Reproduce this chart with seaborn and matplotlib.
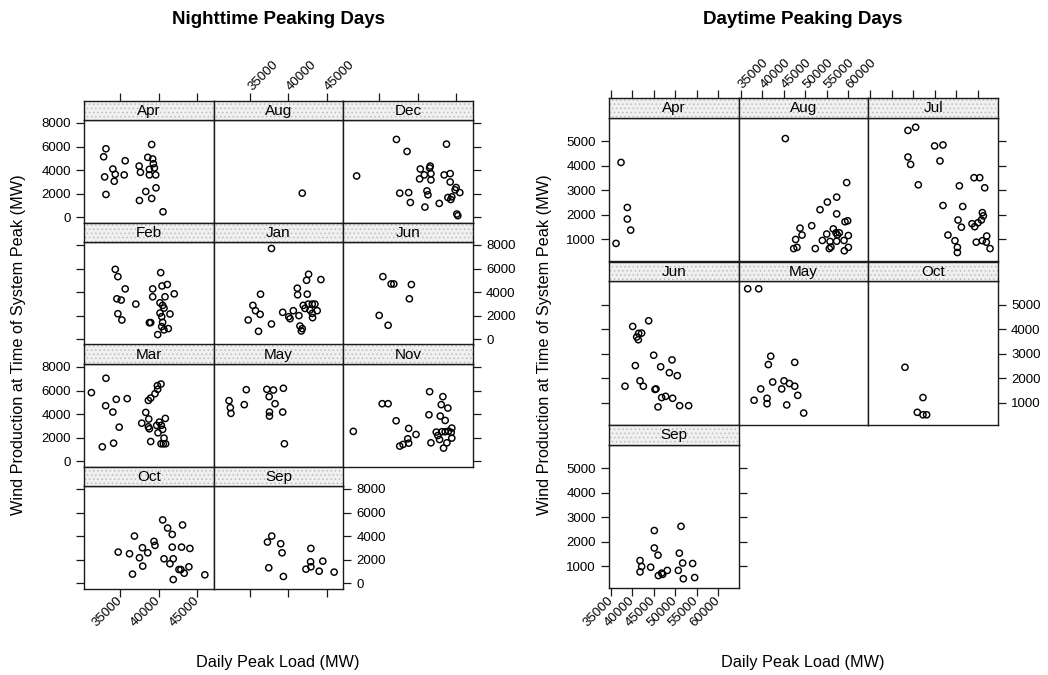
import math
import numpy as np
import pandas as pd
import matplotlib
matplotlib.use("Agg")
import matplotlib.pyplot as plt
from matplotlib.patches import Rectangle
import seaborn as sns

# ---------------- Nighttime peaking days: (daily peak load MW, wind MW) ----------------
night_apr = [(33150, 5810), (32850, 5130), (34050, 4090), (34360, 3640), (32980, 3420),
             (34230, 3050), (35520, 3590), (35650, 4790), (33150, 1930), (37460, 4340),
             (37630, 3810), (38580, 5080), (39090, 6170), (39220, 4940), (39310, 4540),
             (38790, 4060), (39440, 4180), (38790, 3590), (39610, 3590), (38320, 2180),
             (39650, 2490), (37500, 1420), (39090, 1590), (40560, 460)]
night_aug = [(41800, 2040)]
night_dec = [(32030, 3500), (37200, 6600), (38580, 5580), (43700, 6200), (37630, 2040),
             (38790, 2090), (39010, 1250), (40300, 4090), (40210, 3250), (40820, 3590),
             (41590, 4340), (41510, 4180), (41680, 3700), (41680, 3160), (41160, 2230),
             (41290, 1900), (40900, 860), (42760, 1170), (43400, 3590), (44180, 3700),
             (44180, 2990), (43880, 1670), (44260, 1500), (44390, 1730), (44950, 2520),
             (44820, 2320), (45430, 2090), (45040, 270), (45170, 130)]
night_feb = [(34360, 5930), (34700, 5310), (35650, 4270), (34570, 3430), (35130, 3320),
             (37030, 2980), (34700, 2160), (35220, 1630), (40260, 5650), (39220, 4270),
             (40430, 4520), (41120, 4640), (42020, 3850), (39220, 3600), (40820, 3600),
             (40170, 3090), (40510, 2870), (40690, 2640), (40170, 2220), (41460, 2140),
             (40390, 1910), (38790, 1400), (38960, 1410), (40510, 1430), (40390, 1070),
             (41250, 900), (40690, 790), (39870, 390)]
night_jan = [(37800, 7700), (36380, 3820), (35390, 2870), (35730, 2420), (36330, 2110),
             (34780, 1630), (36120, 670), (37800, 1290), (39260, 2280), (40640, 2420),
             (40040, 1910), (40210, 1740), (41370, 2000), (41160, 4330), (41200, 3770),
             (42450, 3820), (42360, 5000), (42620, 5510), (44220, 5060), (41930, 2870),
             (42580, 2980), (43100, 2980), (43440, 2980), (42150, 2610), (42800, 2470),
             (43100, 2190), (43740, 2420), (43140, 1830), (41500, 1120), (41680, 700),
             (41800, 900)]
night_jun = [(35440, 5310), (36510, 4690), (36860, 4690), (39140, 4640), (38880, 3430),
             (34960, 2020), (36120, 1180)]
night_mar = [(31260, 5820), (33150, 7040), (33110, 4710), (34050, 4170), (34490, 5250),
             (35910, 5310), (34870, 2890), (32680, 1220), (34140, 1530), (38660, 5160),
             (38960, 5360), (39520, 5730), (39830, 6410), (40300, 6550), (39870, 6100),
             (38320, 4140), (38710, 3580), (37800, 3230), (38660, 2920), (38790, 2750),
             (40080, 3320), (39740, 3040), (40340, 3040), (40860, 3630), (40510, 2700),
             (39910, 2410), (38960, 1670), (40690, 1960), (40300, 1480), (40600, 1480),
             (40900, 1480)]
night_may = [(32290, 5140), (32460, 4540), (32540, 4060), (34270, 4800), (34530, 6070),
             (37200, 6100), (38060, 6040), (39350, 6190), (37500, 5480), (38270, 4880),
             (37540, 4170), (37540, 3830), (39260, 4170), (39480, 1480)]
night_nov = [(31600, 2530), (35350, 4880), (36120, 4880), (37160, 3430), (38790, 2780),
             (39740, 2270), (37630, 1280), (38060, 1420), (38670, 1900), (38790, 1530),
             (41510, 5900), (41420, 3940), (41680, 1560), (43230, 5480), (43020, 4800),
             (43880, 4510), (42890, 3830), (43530, 3460), (42370, 2470), (42580, 2180),
             (43100, 2500), (43530, 2500), (43960, 2550), (44390, 2810), (44310, 2440),
             (42800, 1840), (43750, 1560), (44390, 1960), (43320, 1110)]
night_oct = [(34740, 2640), (36210, 2500), (36850, 4000), (36600, 770), (37500, 2160),
             (37890, 3010), (37930, 1450), (38580, 2580), (39390, 3550), (39520, 3210),
             (40520, 5370), (40690, 2070), (41160, 4680), (41460, 1650), (41760, 4140),
             (41760, 3060), (41890, 2070), (41890, 310), (42630, 1160), (42880, 1160),
             (43100, 4940), (42970, 3060), (43310, 850), (43920, 1390), (44050, 2950),
             (45990, 710)]
night_sep = [(37280, 3490), (37840, 4000), (37450, 1310), (39000, 3350), (39180, 2580),
             (39350, 570), (42280, 1190), (42920, 2950), (42880, 1820), (42920, 1390),
             (44000, 1020), (44470, 1870), (45940, 940)]

# ---------------- Daytime peaking days ----------------
day_apr = [(36170, 840), (37330, 4130), (38800, 2300), (38800, 1830), (39580, 1380)]
day_aug = [(45400, 5100), (59690, 3310), (57360, 2720), (55190, 2520), (53480, 2210),
           (57360, 2040), (59300, 1720), (59920, 1760), (51540, 1560), (48820, 1460),
           (49290, 1180), (47800, 1000), (56580, 1430), (57210, 1270), (57980, 1270),
           (57520, 1180), (55030, 1220), (54020, 960), (55810, 920), (57360, 930),
           (59070, 960), (60080, 1160), (47340, 630), (48110, 680), (52380, 630),
           (55640, 630), (56030, 690), (59140, 540), (60080, 680)]
day_jul = [(43770, 5430), (45560, 5560), (43770, 4350), (44390, 4050), (46180, 3220),
           (49980, 4800), (51930, 4840), (51230, 4190), (59170, 3510), (60490, 3510),
           (55750, 3180), (61650, 3100), (51930, 2380), (56530, 2340), (61110, 2090),
           (61340, 1960), (55440, 1790), (56220, 1500), (58700, 1640), (59320, 1520),
           (60100, 1680), (60880, 1790), (53090, 1180), (62120, 1140), (54720, 950),
           (59690, 890), (61110, 950), (62040, 890), (55290, 680), (55290, 470),
           (62900, 630)]
day_jun = [(38260, 1680), (40050, 4110), (40670, 2520), (40980, 3680), (41440, 3830),
           (42140, 3840), (41370, 3570), (43770, 4340), (41760, 1900), (42530, 1680),
           (44940, 2940), (46570, 2470), (49210, 2750), (48590, 2230), (50450, 2110),
           (45250, 1550), (45480, 1570), (46800, 1220), (47730, 1270), (49360, 1190),
           (45950, 840), (50990, 890), (53090, 890)]
day_may = [(36630, 5640), (39190, 5640), (41990, 2900), (41440, 2560), (47580, 2650),
           (42450, 1850), (39660, 1570), (38110, 1110), (41130, 1190), (41130, 970),
           (45090, 1900), (44550, 1570), (46340, 1790), (47580, 1680), (45720, 920),
           (48280, 1310), (49670, 590)]
day_oct = [(43080, 2450), (47270, 1220), (45950, 620), (47270, 520), (48120, 520)]
day_sep = [(41760, 1240), (42140, 1000), (41760, 780), (44240, 970), (45090, 2460),
           (45090, 1750), (45950, 1460), (46030, 630), (46800, 730), (47040, 680),
           (48120, 840), (50680, 840), (50920, 1540), (51310, 2630), (51690, 1140),
           (51850, 500), (54020, 1120), (54490, 550)]

night_months = ["Apr", "Aug", "Dec", "Feb", "Jan", "Jun", "Mar", "May", "Nov", "Oct", "Sep"]
night_points = [night_apr, night_aug, night_dec, night_feb, night_jan, night_jun,
                night_mar, night_may, night_nov, night_oct, night_sep]
day_months = ["Apr", "Aug", "Jul", "Jun", "May", "Oct", "Sep"]
day_points = [day_apr, day_aug, day_jul, day_jun, day_may, day_oct, day_sep]

night_xticks = [35000, 40000, 45000]
night_yticks = [0, 2000, 4000, 6000, 8000]
day_xticks = [35000, 40000, 45000, 50000, 55000, 60000]
day_yticks = [1000, 2000, 3000, 4000, 5000]

# ---------------- style ----------------
sns.set_style("white")
plt.rcParams["font.family"] = ["Liberation Sans", "DejaVu Sans"]
plt.rcParams["hatch.linewidth"] = 0.6
for key in ("text.color", "axes.labelcolor", "xtick.color", "ytick.color",
            "axes.edgecolor"):
    plt.rcParams[key] = "black"

W, H = 1048, 675
fig = plt.figure(figsize=(W / 100, H / 100), dpi=100)
FRAME = "#1a1a1a"
TICK_FS = 9.5


def add_px_axes(left, top, width, height):
    return fig.add_axes([left / W, 1 - (top + height) / H, width / W, height / H])


def to_frame(points):
    arr = np.asarray(points, dtype=float)
    return pd.DataFrame({"load": arr[:, 0], "wind": arr[:, 1]})


def style_frame(ax):
    for sp in ax.spines.values():
        sp.set_visible(True)
        sp.set_color(FRAME)
        sp.set_linewidth(1.0)


def draw_block(months, points, col_lefts, panel_w, strip_tops, strip_h, panel_h,
               xlim, ylim, xticks, yticks):
    ncol = 3
    n = len(months)
    nrow = math.ceil(n / ncol)
    xlabels = [str(v) for v in xticks]
    ylabels = [str(v) for v in yticks]
    for i, (name, pts) in enumerate(zip(months, points)):
        r, c = divmod(i, ncol)
        last_in_row = (c == ncol - 1) or (i == n - 1)
        last_row = (r == nrow - 1)
        left = col_lefts[c]
        st = strip_tops[r]

        # panel
        ax = add_px_axes(left, st + strip_h, panel_w, panel_h)
        sns.scatterplot(data=to_frame(pts), x="load", y="wind", ax=ax, marker="o",
                        s=20, facecolors="none", edgecolor="black", linewidth=1.05,
                        legend=False)
        ax.set_xlim(xlim)
        ax.set_ylim(ylim)
        ax.set_xticks(xticks, xlabels)
        ax.set_yticks(yticks, ylabels)
        ax.set_xlabel("")
        ax.set_ylabel("")
        style_frame(ax)
        ax.tick_params(axis="both", direction="out", length=5.5, width=0.9,
                       color=FRAME, labelsize=TICK_FS, labelcolor="black")
        ax.tick_params(axis="x", bottom=last_row, top=False,
                       labelbottom=(last_row and c % 2 == 0), labeltop=False, pad=2)
        ax.tick_params(axis="y", left=(c == 0), right=last_in_row,
                       labelleft=(c == 0 and r % 2 == 0),
                       labelright=(last_in_row and r % 2 == 1), pad=4)
        for t in ax.xaxis.get_major_ticks():
            t.label1.set_rotation(45)
            t.label1.set_ha("right")
            t.label1.set_va("center")
            t.label1.set_rotation_mode("anchor")

        # strip
        sax = add_px_axes(left, st, panel_w, strip_h)
        sax.set_facecolor("#f0f0f0")
        sax.add_patch(Rectangle((0, 0), 1, 1, transform=sax.transAxes,
                                facecolor="none", edgecolor="#bdbdbd",
                                hatch="....", linewidth=0, zorder=0))
        sax.set_xlim(xlim)
        sax.set_ylim(0, 1)
        sax.set_yticks([])
        sax.set_xticks(xticks, xlabels)
        style_frame(sax)
        sax.xaxis.set_ticks_position("top")
        sax.tick_params(axis="x", direction="out", length=5.5, width=0.9, color=FRAME,
                        labelsize=TICK_FS, labelcolor="black", bottom=False,
                        labelbottom=False, top=(r == 0),
                        labeltop=(r == 0 and c % 2 == 1), pad=3)
        for t in sax.xaxis.get_major_ticks():
            t.label2.set_rotation(45)
            t.label2.set_ha("left")
            t.label2.set_va("center")
            t.label2.set_rotation_mode("anchor")
        sax.text(0.5, 0.48, name, transform=sax.transAxes, ha="center", va="center",
                 fontsize=11, color="black", zorder=3)


# Nighttime block (left)
draw_block(night_months, night_points,
           col_lefts=[84, 213.7, 343.3], panel_w=129.6,
           strip_tops=[100.5, 222.5, 344.5, 466.5], strip_h=19.5, panel_h=102.5,
           xlim=(30300, 47130), ylim=(-450, 8250),
           xticks=night_xticks, yticks=night_yticks)

# Daytime block (right)
draw_block(day_months, day_points,
           col_lefts=[609, 738.7, 868.3], panel_w=129.6,
           strip_tops=[98.2, 261.7, 425.2], strip_h=19.5, panel_h=143.5,
           xlim=(34530, 64730), ylim=(117, 5948),
           xticks=day_xticks, yticks=day_yticks)

# titles and axis labels
fig.text(278 / W, 1 - 19 / H, "Nighttime Peaking Days", ha="center", va="center",
         fontsize=13.5, fontweight="bold", color="black")
fig.text(803 / W, 1 - 19 / H, "Daytime Peaking Days", ha="center", va="center",
         fontsize=13.5, fontweight="bold", color="black")
fig.text(278 / W, 1 - 663 / H, "Daily Peak Load (MW)", ha="center", va="center",
         fontsize=11.7, color="black")
fig.text(803 / W, 1 - 663 / H, "Daily Peak Load (MW)", ha="center", va="center",
         fontsize=11.7, color="black")
fig.text(19 / W, 1 - 345 / H, "Wind Production at Time of System Peak (MW)",
         ha="center", va="center", rotation=90, fontsize=11.7, color="black")
fig.text(545 / W, 1 - 345 / H, "Wind Production at Time of System Peak (MW)",
         ha="center", va="center", rotation=90, fontsize=11.7, color="black")

fig.savefig("out.png", dpi=100)
